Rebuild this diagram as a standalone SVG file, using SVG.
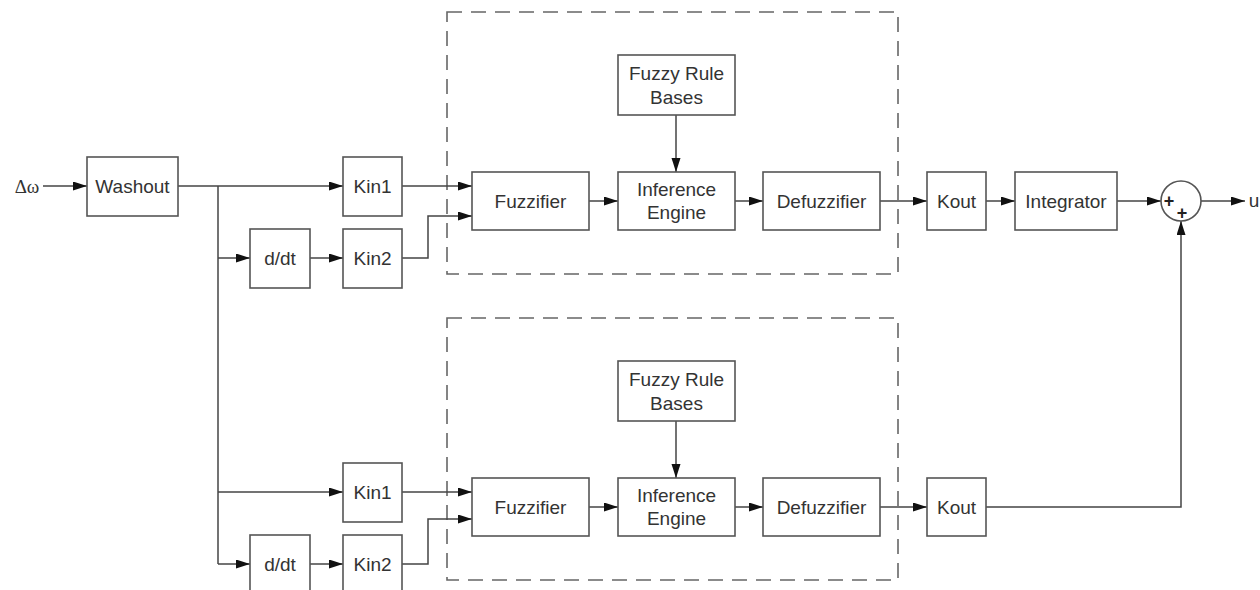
<svg xmlns="http://www.w3.org/2000/svg" width="1260" height="590" viewBox="0 0 1260 590">
<defs>
<marker id="ah" markerWidth="15" markerHeight="10" refX="14" refY="4.5" orient="auto" markerUnits="userSpaceOnUse">
<path d="M0,0 L14,4.5 L0,9 z" fill="#111"/>
</marker>
<style>
.box{fill:#fff;stroke:#555;stroke-width:1.6}
.dash{fill:none;stroke:#666;stroke-width:1.6;stroke-dasharray:15 9}
.t{font-family:"Liberation Sans",Arial,sans-serif;font-size:19px;fill:#333;text-anchor:middle;dominant-baseline:central}
.c{fill:none;stroke:#444;stroke-width:1.5}
.a{marker-end:url(#ah)}
.p{font-family:"Liberation Sans",Arial,sans-serif;font-size:18px;font-weight:bold;fill:#222;text-anchor:middle;dominant-baseline:central}
</style>
</defs>
<rect width="1260" height="590" fill="#fff"/>
<g id="groups">
<rect class="dash" x="447" y="12" width="451" height="262"/>
<rect class="dash" x="447" y="318" width="451" height="262"/>
</g>
<g id="connectors">
<path class="c a" d="M43,186 H87"/>
<path class="c a" d="M178,186 H343"/>
<path class="c" d="M218,186 V564"/>
<path class="c a" d="M218,258 H250"/>
<path class="c a" d="M310,258 H343"/>
<path class="c a" d="M402,186 H472"/>
<path class="c a" d="M402,258 H428 V216 H472"/>
<path class="c a" d="M589,201 H618"/>
<path class="c a" d="M676,115 V172"/>
<path class="c a" d="M735,201 H763"/>
<path class="c a" d="M880,201 H927"/>
<path class="c a" d="M986,201 H1015"/>
<path class="c a" d="M1117,201 H1161"/>
<path class="c a" d="M1201,201 H1245"/>
<path class="c a" d="M218,492 H343"/>
<path class="c a" d="M218,564 H250"/>
<path class="c a" d="M310,564 H343"/>
<path class="c a" d="M402,492 H472"/>
<path class="c a" d="M402,564 H428 V519 H472"/>
<path class="c a" d="M589,507 H618"/>
<path class="c a" d="M676,421 V478"/>
<path class="c a" d="M735,507 H763"/>
<path class="c a" d="M880,507 H927"/>
<path class="c a" d="M986,507 H1181 V221"/>
</g>
<g id="input"><text x="27" y="186" style="font-family:'Liberation Serif','Times New Roman',serif;font-size:19px;fill:#333;text-anchor:middle;dominant-baseline:central">Δω</text></g>
<g id="output"><text x="1254" y="200" class="t">u</text></g>
<g id="washout"><rect class="box" x="87" y="157" width="91" height="59"/><text class="t" x="132.5" y="186.5">Washout</text></g>
<g id="ddt1"><rect class="box" x="250" y="229" width="60" height="59"/><text class="t" x="280" y="258.5">d/dt</text></g>
<g id="kin1a"><rect class="box" x="343" y="157" width="59" height="59"/><text class="t" x="372.5" y="186.5">Kin1</text></g>
<g id="kin2a"><rect class="box" x="343" y="229" width="59" height="59"/><text class="t" x="372.5" y="258.5">Kin2</text></g>
<g id="fuzz1"><rect class="box" x="472" y="172" width="117" height="58"/><text class="t" x="530.5" y="201">Fuzzifier</text></g>
<g id="frb1"><rect class="box" x="618" y="55" width="117" height="60"/><text class="t" x="676.5" y="73">Fuzzy Rule</text><text class="t" x="676.5" y="97">Bases</text></g>
<g id="inf1"><rect class="box" x="618" y="172" width="117" height="58"/><text class="t" x="676.5" y="189">Inference</text><text class="t" x="676.5" y="212">Engine</text></g>
<g id="def1"><rect class="box" x="763" y="172" width="117" height="58"/><text class="t" x="821.5" y="201">Defuzzifier</text></g>
<g id="kout1"><rect class="box" x="927" y="172" width="59" height="58"/><text class="t" x="956.5" y="201">Kout</text></g>
<g id="integrator"><rect class="box" x="1015" y="172" width="102" height="58"/><text class="t" x="1066" y="201">Integrator</text></g>
<g id="sum"><circle cx="1181" cy="201" r="20" fill="#fff" stroke="#555" stroke-width="1.6"/><text class="p" x="1169" y="201">+</text><text class="p" x="1182" y="213">+</text></g>
<g id="ddt2"><rect class="box" x="250" y="535" width="60" height="59"/><text class="t" x="280" y="564.5">d/dt</text></g>
<g id="kin1b"><rect class="box" x="343" y="463" width="59" height="59"/><text class="t" x="372.5" y="492.5">Kin1</text></g>
<g id="kin2b"><rect class="box" x="343" y="535" width="59" height="59"/><text class="t" x="372.5" y="564.5">Kin2</text></g>
<g id="fuzz2"><rect class="box" x="472" y="478" width="117" height="58"/><text class="t" x="530.5" y="507">Fuzzifier</text></g>
<g id="frb2"><rect class="box" x="618" y="361" width="117" height="60"/><text class="t" x="676.5" y="379">Fuzzy Rule</text><text class="t" x="676.5" y="403">Bases</text></g>
<g id="inf2"><rect class="box" x="618" y="478" width="117" height="58"/><text class="t" x="676.5" y="495">Inference</text><text class="t" x="676.5" y="518">Engine</text></g>
<g id="def2"><rect class="box" x="763" y="478" width="117" height="58"/><text class="t" x="821.5" y="507">Defuzzifier</text></g>
<g id="kout2"><rect class="box" x="927" y="478" width="59" height="58"/><text class="t" x="956.5" y="507">Kout</text></g>
</svg>
